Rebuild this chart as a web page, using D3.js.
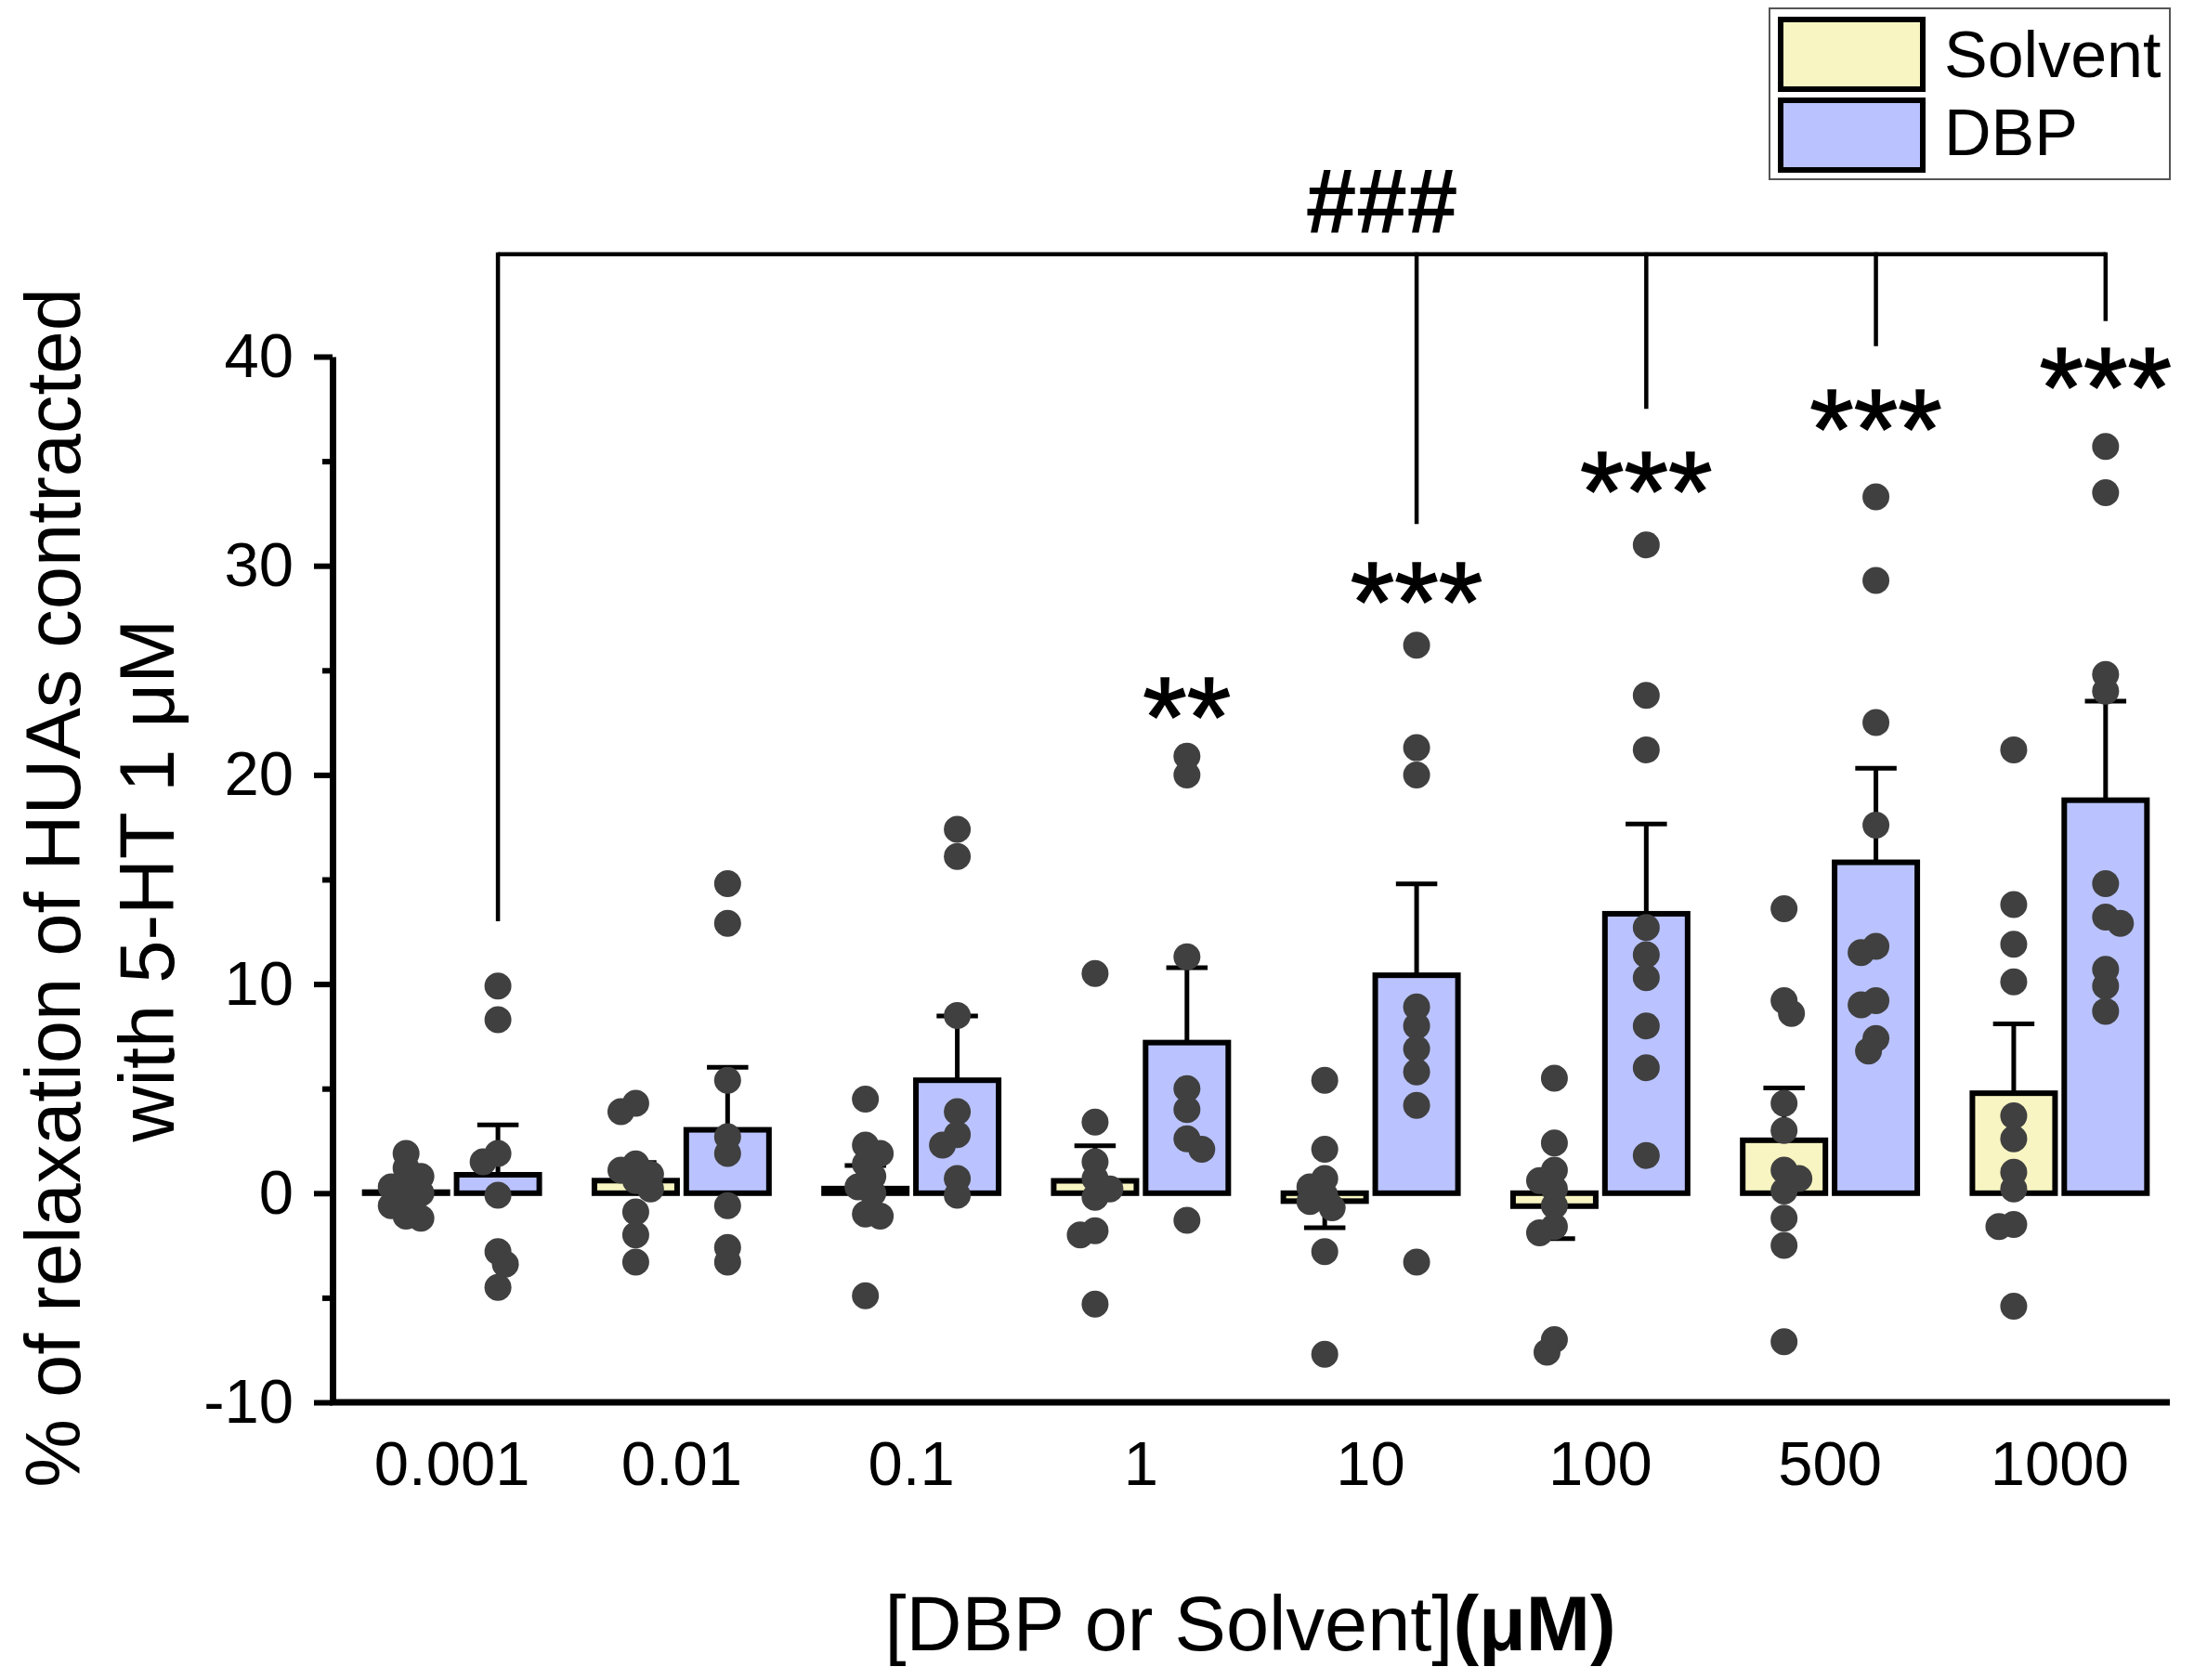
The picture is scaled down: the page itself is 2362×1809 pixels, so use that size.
<!DOCTYPE html>
<html>
<head>
<meta charset="utf-8">
<script src="https://cdn.jsdelivr.net/npm/d3@7"></script>
<style>
  body { margin: 0; background: #fff; }
  text { font-family: "Liberation Sans", Arial, sans-serif; fill: #000; }
</style>
</head>
<body>
<div id="chart"></div>
<script>
const categories = ["0.001", "0.01", "0.1", "1", "10", "100", "500", "1000"];
const series = ["Solvent", "DBP"];

const solventMean = [0.05, 0.6, 0.22, 0.59, -0.38, -0.62, 2.53, 4.78];
const solventSem = [0.45, 0.87, 1.1, 1.68, 1.27, 1.55, 2.5, 3.32];
const dbpMean = [0.88, 3.03, 5.4, 7.2, 10.42, 13.36, 15.82, 18.79];
const dbpSem = [2.39, 2.99, 3.07, 3.58, 4.37, 4.29, 4.5, 4.74];

const solventDots = [
  [1.9, 1.2, 0.8, 0.5, 0.3, 0.0, -0.2, -0.6, -1.1, -1.2],
  [4.3, 3.9, 1.4, 1.1, 0.9, 0.6, 0.2, -0.9, -2.0, -3.3],
  [4.5, 2.3, 1.9, 1.4, 0.8, 0.3, 0.0, -1.0, -1.1, -4.9],
  [10.5, 3.4, 1.5, 0.7, 0.2, -0.2, -1.8, -2.0, -5.3],
  [5.4, 2.1, 0.7, 0.3, -0.1, -0.4, -0.7, -2.8, -7.7],
  [5.5, 2.4, 1.1, 0.6, 0.2, -0.6, -1.6, -1.9, -7.0, -7.6],
  [13.6, 9.2, 8.6, 4.3, 3.0, 1.1, 0.7, 0.1, -1.2, -2.5, -7.1],
  [21.2, 13.8, 11.9, 10.1, 3.7, 2.6, 1.0, 0.2, -1.5, -1.6, -5.4]
];
const dbpDots = [
  [9.9, 8.3, 1.9, 1.5, -0.1, -2.8, -3.4, -4.5],
  [14.8, 12.9, 5.4, 2.7, 1.9, -0.6, -2.6, -3.3],
  [17.4, 16.1, 8.5, 3.9, 2.8, 2.3, 0.7, -0.1],
  [20.9, 20.0, 11.3, 5.0, 4.0, 2.6, 2.1, -1.3],
  [26.2, 21.3, 20.0, 8.9, 8.0, 6.9, 5.8, 4.2, -3.3],
  [31.0, 23.8, 21.2, 12.7, 11.4, 10.3, 8.0, 6.0, 1.8],
  [33.3, 29.3, 22.5, 17.6, 11.8, 11.5, 9.2, 9.0, 7.4, 6.8],
  [35.7, 33.5, 24.8, 24.0, 14.8, 13.2, 12.9, 10.7, 9.9, 8.7]
];

const yTicks = [-10, 0, 10, 20, 30, 40];
const yMinorTicks = [-5, 5, 15, 25, 35];

// significance annotations (DBP vs solvent, and the ### bracket vs lowest dose)
const starLabels = ["", "", "", "**", "***", "***", "***", "***"];
const starLevel = [null, null, null, 23.6, 29.1, 34.4, 37.4, 39.4];
const bracketLevel = 44.9;
const bracketDrops = [13.0, null, null, null, 32.0, 37.5, 40.5, 41.7];

const width = 2362, height = 1809;
const colors = { Solvent: "#f8f5c2", DBP: "#bac3ff" };
const font = "'Liberation Sans', Arial, sans-serif";

const svg = d3.select("#chart").append("svg")
  .attr("width", width)
  .attr("height", height)
  .attr("viewBox", [0, 0, width, height]);

const x = d3.scaleBand()
  .domain(categories)
  .range([363, 2341]);

const xs = d3.scaleBand()
  .domain(series)
  .range([0, x.bandwidth()])
  .paddingInner(0.1)
  .paddingOuter(0.3);

const y = d3.scaleLinear()
  .domain([-10, 40])
  .range([1510, 384]);

const groups = categories.map((c, i) => ({
  cat: c,
  bars: [
    { s: "Solvent", mean: solventMean[i], sem: solventSem[i], dots: solventDots[i] },
    { s: "DBP", mean: dbpMean[i], sem: dbpSem[i], dots: dbpDots[i] }
  ]
}));

const barX = (c, s) => x(c) + xs(s);
const barCx = (c, s) => x(c) + xs(s) + xs.bandwidth() / 2;

// bars
svg.append("g")
  .selectAll("g")
  .data(groups)
  .join("g")
  .selectAll("rect")
  .data(d => d.bars.map(b => ({ ...b, cat: d.cat })))
  .join("rect")
    .attr("x", d => barX(d.cat, d.s))
    .attr("y", d => Math.min(y(d.mean), y(0)))
    .attr("width", xs.bandwidth())
    .attr("height", d => Math.abs(y(0) - y(d.mean)))
    .attr("fill", d => colors[d.s])
    .attr("stroke", "#000")
    .attr("stroke-width", 6);

// error bars (one-sided, away from zero)
const allBars = groups.flatMap(g => g.bars.map(b => ({ ...b, cat: g.cat })));
const errEnd = d => d.mean >= 0 ? d.mean + d.sem : d.mean - d.sem;
const eb = svg.append("g").attr("stroke", "#000").attr("stroke-width", 5);
eb.selectAll("line.v")
  .data(allBars)
  .join("line")
    .attr("class", "v")
    .attr("x1", d => barCx(d.cat, d.s))
    .attr("x2", d => barCx(d.cat, d.s))
    .attr("y1", d => y(d.mean))
    .attr("y2", d => y(errEnd(d)));
eb.selectAll("line.cap")
  .data(allBars)
  .join("line")
    .attr("class", "cap")
    .attr("x1", d => barCx(d.cat, d.s) - xs.bandwidth() / 4)
    .attr("x2", d => barCx(d.cat, d.s) + xs.bandwidth() / 4)
    .attr("y1", d => y(errEnd(d)))
    .attr("y2", d => y(errEnd(d)));

// scatter points, nudged sideways a little when they would sit on top of each other
const r = 14.5;
function dodge(values) {
  const placed = [];
  const order = values.map((v, i) => i).sort((a, b) => values[b] - values[a]);
  const off = new Array(values.length).fill(0);
  const step = r * 0.55, minDist = r * 1.05;
  order.forEach((i, k) => {
    const py = y(values[i]);
    const sign = k % 2 ? -1 : 1;
    const cands = [0, sign * step, -sign * step, sign * 2 * step, -sign * 2 * step];
    let best = cands[0];
    for (const c of cands) {
      const ok = placed.every(p => Math.hypot(p.x - c, p.y - py) >= minDist);
      if (ok) { best = c; break; }
    }
    off[i] = best;
    placed.push({ x: best, y: py });
  });
  return off;
}
const dots = allBars.flatMap(b => {
  const off = dodge(b.dots);
  return b.dots.map((v, i) => ({ cat: b.cat, s: b.s, v, dx: off[i] }));
});
svg.append("g")
  .attr("fill", "#404040")
  .selectAll("circle")
  .data(dots)
  .join("circle")
    .attr("cx", d => barCx(d.cat, d.s) + d.dx)
    .attr("cy", d => y(d.v))
    .attr("r", r);

// axes
const yAxis = svg.append("g")
  .attr("transform", "translate(358,0)")
  .call(d3.axisLeft(y).tickValues(yTicks).tickFormat(d => String(d))
    .tickSize(20).tickSizeOuter(0).tickPadding(22));
yAxis.select(".domain").attr("stroke-width", 7);
yAxis.selectAll(".tick line").attr("stroke-width", 6);
yAxis.selectAll(".tick text")
  .attr("font-size", 67).attr("font-family", font).attr("fill", "#000");

svg.append("g")
  .attr("transform", "translate(358,0)")
  .call(d3.axisLeft(y).tickValues(yMinorTicks).tickSize(11).tickFormat(""))
  .call(g => g.select(".domain").remove())
  .selectAll(".tick line").attr("stroke-width", 6);

const xAxis = svg.append("g")
  .attr("transform", `translate(0,${y(-10)})`)
  .call(d3.axisBottom(x).tickSize(0).tickPadding(41));
xAxis.select(".domain")
  .attr("d", `M355,0H2336`)
  .attr("stroke-width", 7);
xAxis.selectAll(".tick text")
  .attr("font-size", 67).attr("font-family", font).attr("fill", "#000");

// axis titles
svg.append("text")
  .attr("transform", "translate(86,956) rotate(-90)")
  .attr("text-anchor", "middle")
  .attr("font-size", 83)
  .text("% of relaxation of HUAs contracted");
svg.append("text")
  .attr("transform", "translate(187,948) rotate(-90)")
  .attr("text-anchor", "middle")
  .attr("font-size", 83)
  .text("with 5-HT 1 μM");

const xt = svg.append("text")
  .attr("x", 1346)
  .attr("y", 1777)
  .attr("text-anchor", "middle")
  .attr("font-size", 83);
xt.append("tspan").text("[DBP or Solvent]");
xt.append("tspan").attr("font-weight", "bold").text("(μM)");

// significance stars
const starSize = 122;
svg.append("g")
  .selectAll("text")
  .data(categories.map((c, i) => ({ c, lab: starLabels[i], lv: starLevel[i] })).filter(d => d.lab))
  .join("text")
    .attr("x", d => barCx(d.c, "DBP"))
    .attr("y", d => y(d.lv) + starSize * 0.5)
    .attr("text-anchor", "middle")
    .attr("font-size", starSize)
    .attr("stroke", "#000")
    .attr("stroke-width", 1.5)
    .text(d => d.lab);

// ### bracket
const drops = categories.map((c, i) => ({ c, end: bracketDrops[i] })).filter(d => d.end !== null);
const br = svg.append("g").attr("stroke", "#000").attr("stroke-width", 4.5).attr("fill", "none");
br.append("line")
  .attr("x1", barCx(drops[0].c, "DBP"))
  .attr("x2", barCx(drops[drops.length - 1].c, "DBP"))
  .attr("y1", y(bracketLevel))
  .attr("y2", y(bracketLevel));
br.selectAll("line.drop")
  .data(drops)
  .join("line")
    .attr("class", "drop")
    .attr("x1", d => barCx(d.c, "DBP"))
    .attr("x2", d => barCx(d.c, "DBP"))
    .attr("y1", y(bracketLevel) - 2)
    .attr("y2", d => y(d.end));
svg.append("text")
  .attr("x", x("10") + x.bandwidth() / 2 + 12)
  .attr("y", y(bracketLevel) - 24)
  .attr("text-anchor", "middle")
  .attr("font-size", 98)
  .attr("font-weight", "bold")
  .text("###");

// legend
const lg = svg.append("g");
lg.append("rect")
  .attr("x", 1905).attr("y", 9)
  .attr("width", 431).attr("height", 184)
  .attr("fill", "#fff")
  .attr("stroke", "#555")
  .attr("stroke-width", 2);
series.forEach((s, i) => {
  lg.append("rect")
    .attr("x", 1917).attr("y", 21 + i * 87)
    .attr("width", 153).attr("height", 75)
    .attr("fill", colors[s])
    .attr("stroke", "#000")
    .attr("stroke-width", 6);
  lg.append("text")
    .attr("x", 2093).attr("y", 83 + i * 84)
    .attr("font-size", 70)
    .text(s);
});
</script>
</body>
</html>
